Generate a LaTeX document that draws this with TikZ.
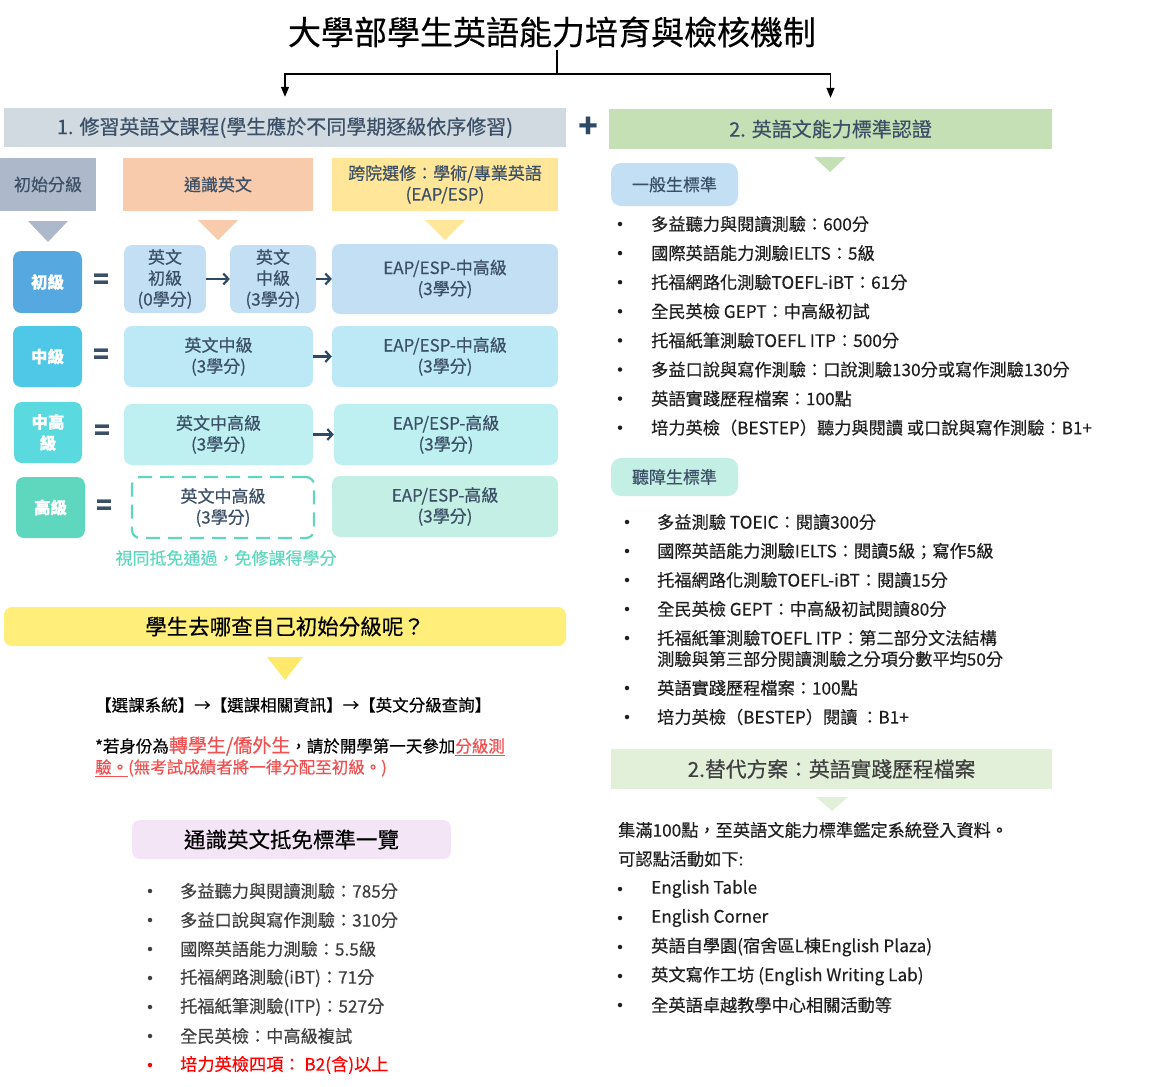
\documentclass[tikz,border=0pt]{standalone}
\usepackage{fontspec}
\setmainfont{Noto Sans CJK TC}[FakeBold=0.4]
\usetikzlibrary{arrows.meta}

\definecolor{slate}{HTML}{3B4F66}
\definecolor{arrc}{HTML}{2C4A66}
\definecolor{hdrgray}{HTML}{D1DAE1}
\definecolor{hdrgreen}{HTML}{C5E0B4}
\definecolor{colgray}{HTML}{ADB9CA}
\definecolor{colpeach}{HTML}{F8CBAD}
\definecolor{colyellow}{HTML}{FFE699}
\definecolor{lvA}{HTML}{56A8E1}
\definecolor{lvB}{HTML}{4FC7E6}
\definecolor{lvC}{HTML}{5AD9DF}
\definecolor{lvD}{HTML}{5ED7BE}
\definecolor{ltA}{HTML}{C2DFF4}
\definecolor{ltB}{HTML}{BDE9F6}
\definecolor{ltC}{HTML}{BEF0F1}
\definecolor{ltD}{HTML}{C4EFE4}
\definecolor{altgreen}{HTML}{E2EFD9}
\definecolor{askyellow}{HTML}{FFEF7A}
\definecolor{triyellow}{HTML}{FFE96B}
\definecolor{lav}{HTML}{F3E5F5}
\definecolor{notered}{HTML}{F0504F}
\definecolor{listgray}{HTML}{3F3F3F}
\definecolor{listdark}{HTML}{1F1F1F}

\begin{document}
\begin{tikzpicture}[x=1pt,y=-1pt,
  box/.style={inner sep=0pt, rounded corners=8pt, align=center, text=slate, font=\fontsize{17}{21}\selectfont},
  bar/.style={inner sep=0pt, align=center, text=slate, font=\fontsize{20}{24}\selectfont},
  lvbox/.style={box, text=white, font=\fontsize{16.5}{21}\selectfont\bfseries},
  eqsign/.style={text=slate, font=\fontsize{26}{26}\selectfont\bfseries},
  arr/.style={draw=arrc, line width=2.2pt, -{Straight Barb[length=5pt,width=11pt]}},
  item/.style={anchor=west, inner sep=0pt, align=left, font=\fontsize{17.2}{21}\selectfont},
  dot/.style={circle, inner sep=0pt, minimum size=4.5pt},
  tip/.style={-{Triangle[length=10pt,width=8pt]}, line width=1.3pt},
]
\useasboundingbox (0,0) rectangle (1165,1087);

%% title and split
\node[inner sep=0pt, font=\fontsize{33}{36}\selectfont] (title) at (552,32) {大學部學生英語能力培育與檢核機制};
\coordinate (split) at (557,74);
\draw[line width=1.3pt] (557,50) -- (split);

%% section headers
\node[bar, fill=hdrgray, minimum width=562, minimum height=39] (sec1) at (285,127.5) {1. 修習英語文課程(學生應於不同學期逐級依序修習)};
\node[bar, fill=hdrgreen, minimum width=443, minimum height=40] (sec2) at (830.5,129) {2. 英語文能力標準認證};
\node[text=arrc, font=\fontsize{32}{32}\selectfont\bfseries] (plus) at (588,127) {+};
\draw[tip, shorten >=11pt] (split) -| (sec1.north);
\draw[tip, shorten >=11pt] (split) -| (sec2.north);

%% column headers
\node[box, rounded corners=0pt, fill=colgray, minimum width=96, minimum height=53] (colA) at (48,184.5) {初始分級};
\node[box, rounded corners=0pt, fill=colpeach, minimum width=190, minimum height=53] (colB) at (218,184.5) {通識英文};
\node[box, rounded corners=0pt, fill=colyellow, minimum width=226, minimum height=53] (colC) at (445,184.5) {跨院選修：學術/專業英語\\(EAP/ESP)};
\fill[colgray] (28,221) -- (68,221) -- (48,242) -- cycle;
\fill[colpeach] (198,220) -- (238,220) -- (218,240) -- cycle;
\fill[colyellow] (425,220) -- (465,220) -- (445,240) -- cycle;

%% level 1
\node[lvbox, fill=lvA, minimum width=69, minimum height=62] (lvA) at (47.5,282) {初級};
\node[eqsign] (eqA) at (101,281) {=};
\node[box, fill=ltA, minimum width=82, minimum height=68] (aA) at (165,279) {英文\\初級\\(0學分)};
\node[box, fill=ltA, minimum width=86, minimum height=68] (bA) at (273,279) {英文\\中級\\(3學分)};
\node[box, fill=ltA, minimum width=226, minimum height=70] (cA) at (445,279) {EAP/ESP-中高級\\(3學分)};
\draw[arr] (aA) -- (bA);
\draw[arr] (bA) -- (cA);

%% level 2
\node[lvbox, fill=lvB, minimum width=69, minimum height=61] (lvB) at (47.5,356.5) {中級};
\node[eqsign] (eqB) at (101,356) {=};
\node[box, fill=ltB, minimum width=189, minimum height=61] (aB) at (218.5,356.5) {英文中級\\(3學分)};
\node[box, fill=ltB, minimum width=226, minimum height=61] (cB) at (445,356.5) {EAP/ESP-中高級\\(3學分)};
\draw[arr] (aB) -- (cB);

%% level 3
\node[lvbox, fill=lvC, minimum width=68, minimum height=61] (lvC) at (48,432.5) {中高\\級};
\node[eqsign] (eqC) at (102,432) {=};
\node[box, fill=ltC, minimum width=189, minimum height=61] (aC) at (218.5,434.5) {英文中高級\\(3學分)};
\node[box, fill=ltC, minimum width=224, minimum height=61] (cC) at (446,434.5) {EAP/ESP-高級\\(3學分)};
\draw[arr] (aC) -- (cC);

%% level 4
\node[lvbox, fill=lvD, minimum width=69, minimum height=61] (lvD) at (50.5,507.5) {高級};
\node[eqsign] (eqD) at (104,507) {=};
\node[box, draw=lvD, line width=2.2pt, dash pattern=on 14pt off 8pt, minimum width=182, minimum height=61] (aD) at (223,507.5) {英文中高級\\(3學分)};
\node[box, fill=ltD, minimum width=226, minimum height=61] (cD) at (445,506.5) {EAP/ESP-高級\\(3學分)};
\node[inner sep=0pt, text=lvD, font=\fontsize{17}{21}\selectfont] (waive) at (226,558) {視同抵免通過，免修課得學分};

%% where to check
\node[inner sep=0pt, rounded corners=8pt, fill=askyellow, minimum width=562, minimum height=39, font=\fontsize{21.5}{24}\selectfont] (ask) at (285,626.5) {學生去哪查自己初始分級呢？};
\fill[triyellow] (267,657) -- (303,657) -- (285,680) -- cycle;
\node[item, font=\fontsize{16.5}{21}\selectfont] (path) at (95,705) {【選課系統】→【選課相關資訊】→【英文分級查詢】};
\node[item, font=\fontsize{16.5}{21}\selectfont] (note) at (95,756.5) {*若身份為{\color{notered}\fontsize{19}{21}\selectfont 轉學生/僑外生}，請於開學第一天參加\textcolor{notered}{\underline{分級測}}\\\textcolor{notered}{\underline{驗。}(無考試成績者將一律分配至初級。)}};

%% waiver list
\node[inner sep=0pt, rounded corners=8pt, fill=lav, minimum width=319, minimum height=39, font=\fontsize{21.5}{24}\selectfont] (waivehdr) at (291.5,839.5) {通識英文抵免標準一覽};
\foreach \t [count=\i] in {多益聽力與閱讀測驗：785分, 多益口說與寫作測驗：310分, 國際英語能力測驗：5.5級, 托福網路測驗(iBT)：71分, 托福紙筆測驗(ITP)：527分, 全民英檢：中高級複試}{
  \node[dot, fill=listgray] (wd\i) at (150,891+29*\i-29) {};
  \node[item, text=listgray] (wv\i) at (180,891+29*\i-29) {\t};
}
\node[dot, fill=red] (wd7) at (150,1065) {};
\node[item, text=red] (wv7) at (180,1065) {培力英檢四項： B2(含)以上};

%% general students
\fill[hdrgreen] (814,157) -- (846,157) -- (830,172) -- cycle;
\node[box, rounded corners=10pt, fill=ltA, minimum width=127, minimum height=43] (gentag) at (674.5,184.5) {一般生標準};
\foreach \t [count=\i] in {多益聽力與閱讀測驗：600分, 國際英語能力測驗IELTS：5級, 托福網路化測驗TOEFL-iBT：61分, 全民英檢 GEPT：中高級初試, 托福紙筆測驗TOEFL ITP：500分, 多益口說與寫作測驗：口說測驗130分或寫作測驗130分, 英語實踐歷程檔案：100點, 培力英檢（BESTEP）聽力與閱讀 或口說與寫作測驗：B1+}{
  \node[dot, fill=listdark] (gd\i) at (620,224+29.1*\i-29.1) {};
  \node[item, text=listdark] (gv\i) at (651,224+29.1*\i-29.1) {\t};
}

%% hearing impaired students
\node[box, rounded corners=10pt, fill=ltD, minimum width=127, minimum height=38] (deaftag) at (674.5,477) {聽障生標準};
\foreach \y/\t [count=\i] in {522/多益測驗 TOEIC：閱讀300分, 551/國際英語能力測驗IELTS：閱讀5級；寫作5級, 580/托福網路化測驗TOEFL-iBT：閱讀15分, 609/全民英檢 GEPT：中高級初試閱讀80分, 688/英語實踐歷程檔案：100點, 717/培力英檢（BESTEP）閱讀 ：B1+}{
  \node[dot, fill=listdark] (dd\i) at (627,\y) {};
  \node[item, text=listdark] (dv\i) at (657,\y) {\t};
}
\node[dot, fill=listdark] (dd7) at (627,638) {};
\node[item, text=listdark] (dv7) at (657,648.5) {托福紙筆測驗TOEFL ITP：第二部分文法結構\\測驗與第三部分閱讀測驗之分項分數平均50分};

%% alternative plan
\node[bar, fill=altgreen, text=listgray, minimum width=441, minimum height=40, font=\fontsize{20.8}{24}\selectfont] (alt) at (831.5,769) {2.替代方案：英語實踐歷程檔案};
\fill[altgreen] (816,797) -- (848,797) -- (832,811) -- cycle;
\node[item, text=listdark] (altA) at (618,830) {集滿100點，至英語文能力標準鑑定系統登入資料。};
\node[item, text=listdark] (altB) at (618,859) {可認點活動如下:};
\foreach \t [count=\i] in {English Table, English Corner, 英語自學園(宿舍區L棟English Plaza), 英文寫作工坊 (English Writing Lab), 全英語卓越教學中心相關活動等}{
  \node[dot, fill=listdark] (ad\i) at (620,889+29*\i-29) {};
  \node[item, text=listdark] (av\i) at (651,889+29*\i-29) {\t};
}

\end{tikzpicture}
\end{document}
